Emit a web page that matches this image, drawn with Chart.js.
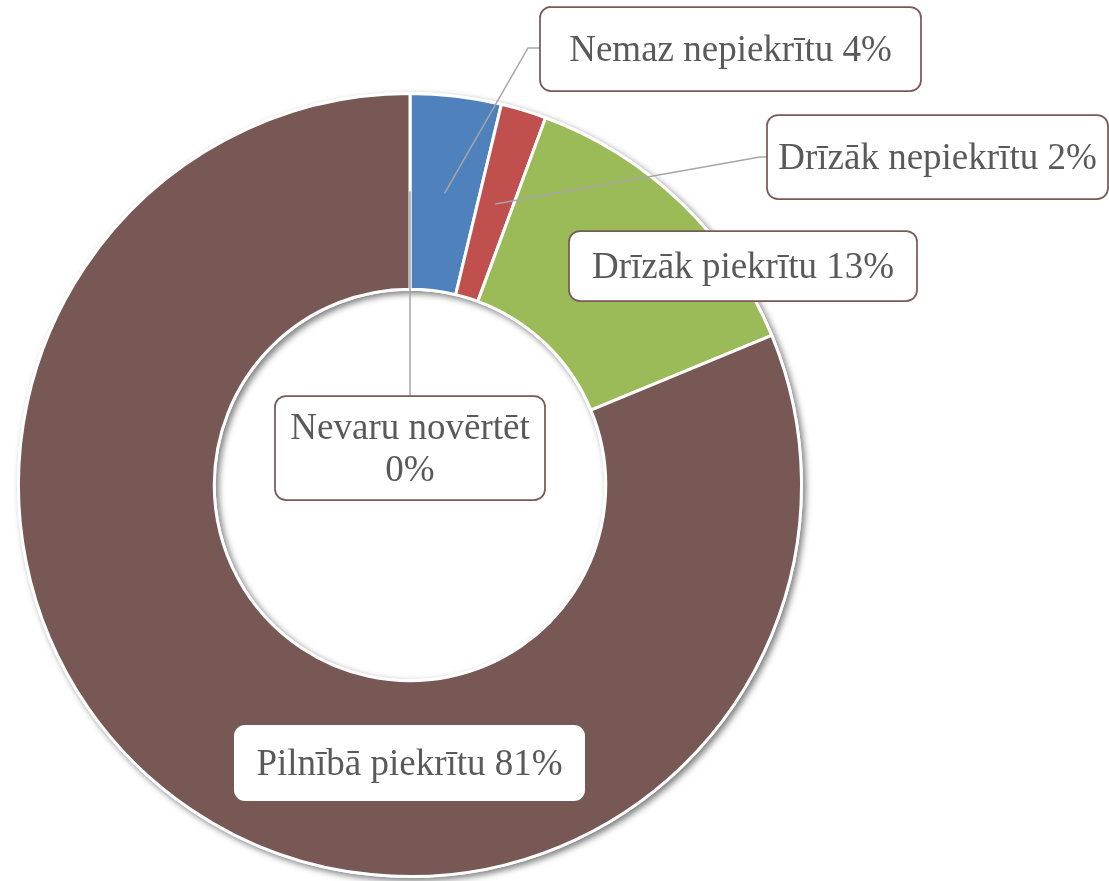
<!DOCTYPE html>
<html lang="lv">
<head>
<meta charset="utf-8">
<title>Donut</title>
<script src="https://cdn.jsdelivr.net/npm/chart.js@4.4.1/dist/chart.umd.min.js"></script>
<style>
  html, body { margin: 0; padding: 0; background: #fff; }
  #wrap { width: 1109px; height: 881px; position: relative; }
</style>
</head>
<body>
<div id="wrap"><canvas id="donut"></canvas></div>
<script>
// ==== Data ====
const categories = ['Nemaz nepiekrītu', 'Drīzāk nepiekrītu', 'Drīzāk piekrītu', 'Pilnībā piekrītu', 'Nevaru novērtēt'];
const shares = [3.75, 1.88, 13.13, 81.25, 0];
const sliceColors = ['#4f81bd', '#c0504d', '#9bbb59', '#775854', '#8064a2'];

// label boxes (pixel layout of the callouts)
const boxes = [
  { x: 540, y: 7, w: 381, h: 84, border: true, leader: [[528, 48], [540, 48]] },
  { x: 767, y: 115, w: 341, h: 84, border: true, leader: [[760, 157], [767, 157]] },
  { x: 569, y: 231, w: 348, h: 70, border: true },
  { x: 234, y: 725, w: 351, h: 76, border: false },
  { x: 275, y: 396, w: 270, h: 104, border: true, twoLines: true, leader: [[410, 396]] }
];

const pct = i => Math.round(shares[i]) + '%';

// ==== shadow under the ring ====
const ringShadow = {
  id: 'ringShadow',
  beforeDatasetsDraw(chart) {
    const arc = chart.getDatasetMeta(0).data[0];
    if (!arc) return;
    const { x, y, outerRadius, innerRadius } = arc.getProps(['x', 'y', 'outerRadius', 'innerRadius'], true);
    const c = chart.ctx;
    c.save();
    c.shadowColor = 'rgba(0,0,0,0.5)';
    c.shadowBlur = 6;
    c.shadowOffsetX = 3;
    c.shadowOffsetY = 3;
    c.fillStyle = '#fff';
    c.beginPath();
    c.arc(x, y, outerRadius + 1.5, 0, Math.PI * 2);
    c.arc(x, y, innerRadius - 1.5, 0, Math.PI * 2, true);
    c.fill();
    c.restore();
  }
};

// ==== callout labels with leader lines ====
const calloutLabels = {
  id: 'calloutLabels',
  afterDatasetsDraw(chart) {
    const c = chart.ctx;
    const arcs = chart.getDatasetMeta(0).data;
    c.save();
    categories.forEach((name, i) => {
      const b = boxes[i];
      if (b.leader) {
        const p = arcs[i].tooltipPosition();
        c.strokeStyle = '#a6a6a6';
        c.lineWidth = 1.5;
        c.beginPath();
        c.moveTo(p.x, p.y);
        b.leader.forEach(([lx, ly]) => c.lineTo(lx, ly));
        c.stroke();
      }
      c.beginPath();
      c.roundRect(b.x, b.y, b.w, b.h, 11);
      c.fillStyle = '#fff';
      c.fill();
      if (b.border) {
        c.strokeStyle = '#7a5a56';
        c.lineWidth = 1.75;
        c.stroke();
      }
      c.font = '37px "Liberation Serif", "Times New Roman", serif';
      c.fillStyle = '#595959';
      c.textAlign = 'center';
      c.textBaseline = 'middle';
      const cx = b.x + b.w / 2;
      const cy = b.y + b.h / 2;
      if (b.twoLines) {
        c.fillText(name, cx, cy - 19);
        c.fillText(pct(i), cx, cy + 23);
      } else {
        c.fillText(name + ' ' + pct(i), cx, cy + 2);
      }
    });
    c.restore();
  }
};

// ==== Chart ====
const ctx = document.getElementById('donut');
new Chart(ctx, {
  type: 'doughnut',
  data: {
    labels: categories,
    datasets: [{
      data: shares,
      backgroundColor: sliceColors,
      borderColor: '#ffffff',
      borderWidth: 3
    }]
  },
  options: {
    responsive: true,
    maintainAspectRatio: false,
    animation: false,
    cutout: '50%',
    layout: { padding: { left: 17, top: 92, right: 306, bottom: 3 } },
    plugins: {
      legend: { display: false },
      tooltip: { enabled: false }
    }
  },
  plugins: [ringShadow, calloutLabels]
});
</script>
</body>
</html>
